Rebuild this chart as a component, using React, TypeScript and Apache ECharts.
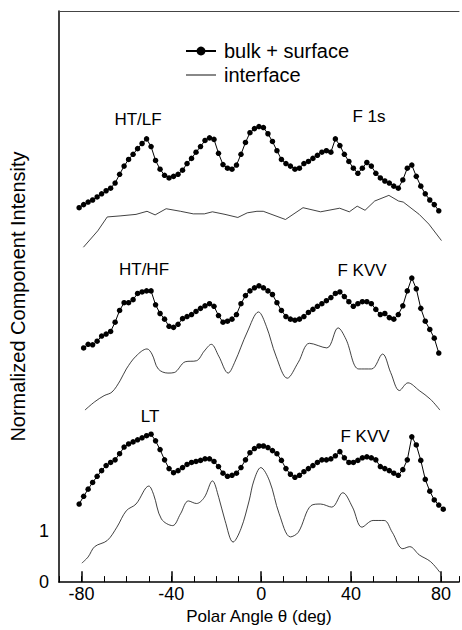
import React, { useEffect, useRef } from 'react';
import * as echarts from 'echarts';

// Polar angles (deg) of the dotted bulk + surface points
const ANGLES = [
  -81, -79, -77, -75, -73, -71, -69, -67, -65, -63,
  -61, -59, -57, -55, -53, -51, -49, -47, -45, -43,
  -41, -39, -37, -35, -33, -31, -29, -27, -25, -23,
  -21, -19, -17, -15, -13, -11, -9, -7, -5, -3,
  -1, 1, 3, 5, 7, 9, 11, 13, 15, 17,
  19, 21, 23, 25, 27, 29, 31, 33, 35, 37,
  39, 41, 43, 45, 47, 49, 51, 53, 55, 57,
  59, 61, 63, 65, 67, 69, 71, 73, 75, 77,
  79, 81,
];

// HT/LF  F 1s  bulk + surface
const TOP_BULK = [
  7.29, 7.35, 7.40, 7.44, 7.50, 7.56, 7.62, 7.67, 7.77, 7.94,
  8.10, 8.23, 8.33, 8.44, 8.54, 8.63, 8.48, 8.21, 8.04, 7.92,
  7.87, 7.90, 7.94, 8.02, 8.15, 8.25, 8.37, 8.48, 8.60, 8.65,
  8.62, 8.35, 8.13, 8.06, 8.04, 8.12, 8.33, 8.56, 8.75, 8.83,
  8.87, 8.85, 8.73, 8.58, 8.40, 8.23, 8.15, 8.10, 8.04, 8.06,
  8.15, 8.19, 8.25, 8.31, 8.37, 8.40, 8.37, 8.63, 8.50, 8.33,
  8.19, 8.06, 7.96, 8.06, 8.17, 8.10, 7.96, 7.87, 7.81, 7.77,
  7.71, 7.67, 7.83, 8.06, 8.12, 7.90, 7.71, 7.56, 7.44, 7.35,
  7.23, null,
];

// HT/HF  F KVV  bulk + surface
const MID_BULK = [
  null, 4.56, 4.63, 4.62, 4.69, 4.79, 4.83, 4.88, 5.06, 5.29,
  5.44, 5.44, 5.50, 5.62, 5.65, 5.67, 5.67, 5.40, 5.23, 5.12,
  4.98, 4.96, 5.02, 5.13, 5.17, 5.21, 5.27, 5.33, 5.38, 5.42,
  5.37, 5.19, 5.06, 5.08, 5.12, 5.21, 5.42, 5.58, 5.67, 5.73,
  5.77, 5.73, 5.67, 5.60, 5.44, 5.29, 5.17, 5.12, 5.10, 5.12,
  5.17, 5.25, 5.31, 5.37, 5.42, 5.48, 5.54, 5.62, 5.65, 5.56,
  5.46, 5.37, 5.42, 5.46, 5.46, 5.42, 5.31, 5.21, 5.23, 5.15,
  5.12, 5.21, 5.38, 5.67, 5.92, 5.71, 5.33, 5.08, 4.92, 4.75,
  4.46, null,
];

// LT  F KVV  bulk + surface
const LOW_BULK = [
  1.52, 1.67, 1.81, 1.94, 2.06, 2.17, 2.27, 2.33, 2.38, 2.50,
  2.63, 2.69, 2.73, 2.77, 2.81, 2.85, 2.88, 2.75, 2.58, 2.38,
  2.21, 2.13, 2.17, 2.23, 2.29, 2.33, 2.35, 2.37, 2.40, 2.40,
  2.35, 2.25, 2.12, 2.06, 2.08, 2.12, 2.23, 2.38, 2.52, 2.60,
  2.65, 2.65, 2.62, 2.56, 2.50, 2.37, 2.21, 2.10, 2.04, 2.08,
  2.15, 2.21, 2.27, 2.33, 2.38, 2.38, 2.40, 2.46, 2.54, 2.42,
  2.33, 2.33, 2.37, 2.42, 2.44, 2.42, 2.38, 2.25, 2.21, 2.17,
  2.12, 2.08, 2.19, 2.38, 2.83, 2.67, 2.37, 2.00, 1.77, 1.60,
  1.50, 1.42,
];

// interface curves (angle, value)
const TOP_IF_ANGLES = [-79.1, -72.7, -68.5, -62.8, -55.7, -50.8, -47.2, -42.3, -35.9, -30.2, -25.3, -21.7, -16.1, -10.4, -6.2, -1.9, 0.9, 10.8, 18.6, 26.4, 34.9, 39.2, 42.7, 46.2, 50.5, 56.8, 61.1, 63.2, 70.3, 74.6, 80.2];
const TOP_IF_VALUES = [6.52, 6.84, 7.11, 7.13, 7.16, 7.22, 7.15, 7.27, 7.22, 7.17, 7.17, 7.21, 7.16, 7.10, 7.19, 7.22, 7.22, 7.06, 7.29, 7.21, 7.28, 7.21, 7.32, 7.24, 7.42, 7.53, 7.42, 7.40, 7.16, 6.97, 6.65];

const MID_IF_ANGLES = [-78.4, -74.1, -69.9, -66.4, -62.8, -60, -55.7, -50.8, -48.6, -45.8, -41.5, -38.7, -33.8, -28.8, -25.3, -22.2, -18.9, -14.7, -11.8, -6.2, -1.2, 2.3, 6.6, 11.6, 16.5, 21.5, 29.2, 34.2, 37.7, 43.4, 49.1, 54, 57.6, 61.5, 65.3, 70.3, 75.3, 79.5];
const MID_IF_VALUES = [3.35, 3.51, 3.63, 3.70, 3.92, 4.15, 4.40, 4.54, 4.44, 4.15, 4.07, 4.08, 4.29, 4.31, 4.50, 4.63, 4.40, 4.07, 4.28, 4.87, 5.26, 4.98, 4.40, 3.97, 4.28, 4.65, 4.56, 4.95, 4.73, 4.15, 4.15, 4.44, 4.08, 3.73, 3.88, 3.73, 3.56, 3.35];

const LOW_IF_ANGLES = [-79.8, -77, -74.1, -68.5, -64.2, -60, -55.7, -50, -47.9, -44.4, -39.4, -35.9, -32.4, -28.8, -25.3, -21.7, -18.9, -16.1, -12.5, -9, -5.4, -3.3, -0.2, 3.7, 8, 13, 16.5, 22.2, 26.4, 31.4, 36.3, 40.6, 44.8, 49.8, 54.7, 58.3, 63, 66.1, 70.3, 75.3, 79.5];
const LOW_IF_VALUES = [0.37, 0.49, 0.69, 0.81, 1.07, 1.39, 1.52, 1.87, 1.71, 1.23, 1.10, 1.33, 1.58, 1.53, 1.65, 1.97, 1.65, 1.20, 0.78, 1.04, 1.58, 1.97, 2.23, 1.97, 1.33, 0.88, 0.97, 1.49, 1.52, 1.46, 1.74, 1.46, 1.07, 1.20, 1.20, 0.97, 0.65, 0.69, 0.53, 0.40, 0.19];

const MAJOR_TICKS = [-80, -40, 0, 40, 80];

const ANNOTATIONS = [
  { text: 'HT/LF', x: 138, y: 119 },
  { text: 'F 1s', x: 369, y: 116 },
  { text: 'HT/HF', x: 144, y: 269 },
  { text: 'F KVV', x: 362, y: 270 },
  { text: 'LT', x: 150, y: 416 },
  { text: 'F KVV', x: 365, y: 436 },
];

const FONT = "'Liberation Sans', Arial, Helvetica, sans-serif";

function pairs(xs: number[], ys: (number | null)[]) {
  const out: number[][] = [];
  xs.forEach((x, i) => {
    const y = ys[i];
    if (y !== null && y !== undefined) out.push([x, y]);
  });
  return out;
}

export default function App() {
  const ref = useRef<HTMLDivElement>(null);

  useEffect(() => {
    const chart = echarts.init(ref.current as HTMLDivElement, null, { renderer: 'svg' });

    const bulk = (ys: (number | null)[]) => ({
      type: 'line',
      name: 'bulk + surface',
      data: pairs(ANGLES, ys),
      symbol: 'circle',
      symbolSize: 5.5,
      itemStyle: { color: '#000' },
      lineStyle: { color: '#000', width: 1 },
      emphasis: { disabled: true },
      z: 3,
    });
    const iface = (xs: number[], ys: number[]) => ({
      type: 'line',
      name: 'interface',
      data: pairs(xs, ys),
      symbol: 'none',
      showSymbol: false,
      smooth: 0.35,
      itemStyle: { color: '#111' },
      lineStyle: { color: '#111', width: 0.8 },
      emphasis: { disabled: true },
      z: 2,
    });

    const top = bulk(TOP_BULK) as any;
    top.markLine = {
      silent: true,
      symbol: ['none', 'none'],
      label: { show: false },
      lineStyle: { color: '#000', width: 1.5, type: 'solid' },
      data: MAJOR_TICKS.map((t) => [{ coord: [t, 0] }, { coord: [t, 0.21] }]),
    };
    const topIf = iface(TOP_IF_ANGLES, TOP_IF_VALUES) as any;
    topIf.smooth = false;

    chart.setOption({
      animation: false,
      backgroundColor: '#fff',
      grid: { left: 43, right: 0, top: 11, bottom: 41, containLabel: false },
      legend: {
        orient: 'vertical',
        left: 180,
        top: 36,
        itemWidth: 30,
        itemHeight: 11,
        itemGap: 4,
        symbolKeepAspect: true,
        data: [
          { name: 'bulk + surface' },
          { name: 'interface', icon: 'path://M0,0H30V1H0Z', itemStyle: { color: '#111' } },
        ],
        textStyle: { fontSize: 20, color: '#000', fontFamily: FONT, lineHeight: 20, padding: [0, 0, 0, 3] },
      },
      xAxis: [
        {
          type: 'value',
          min: -90,
          max: 88,
          interval: 10,
          axisLine: { show: true, onZero: false, lineStyle: { color: '#000', width: 1.5 } },
          axisTick: { show: true, inside: true, length: 6, lineStyle: { color: '#000', width: 1 } },
          axisLabel: {
            formatter: (v: number) => (v % 40 === 0 ? String(v) : ''),
            fontSize: 18,
            color: '#000',
            fontFamily: FONT,
            margin: 3,
          },
          splitLine: { show: false },
          name: 'Polar Angle \u03B8 (deg)',
          nameLocation: 'middle',
          nameGap: 22,
          nameTextStyle: { fontSize: 17, color: '#000', fontFamily: FONT },
        },
        {
          type: 'value',
          position: 'top',
          min: -90,
          max: 88,
          axisLine: { show: true, onZero: false, lineStyle: { color: '#444', width: 1 } },
          axisTick: { show: false },
          axisLabel: { show: false },
          splitLine: { show: false },
        },
      ],
      yAxis: {
        type: 'value',
        min: 0,
        max: 11.12,
        interval: 1,
        axisLine: { show: true, onZero: false, lineStyle: { color: '#000', width: 1.5 } },
        axisTick: { show: false },
        splitLine: { show: false },
        axisLabel: {
          formatter: (v: number) => (v === 0 ? '0' : v === 1 ? '1' : ''),
          fontSize: 18,
          color: '#000',
          fontFamily: FONT,
          margin: 10,
        },
        name: 'Normalized Component Intensity',
        nameLocation: 'middle',
        nameRotate: 90,
        nameGap: 19,
        nameTextStyle: { fontSize: 20, color: '#000', fontFamily: FONT },
      },
      graphic: ANNOTATIONS.map((a) => ({
        type: 'text',
        x: a.x,
        y: a.y,
        silent: true,
        style: {
          text: a.text,
          fill: '#000',
          font: `17px ${FONT}`,
          align: 'center',
          verticalAlign: 'middle',
          textAlign: 'center',
          textVerticalAlign: 'middle',
        },
      })),
      series: [
        top,
        bulk(MID_BULK),
        bulk(LOW_BULK),
        topIf,
        iface(MID_IF_ANGLES, MID_IF_VALUES),
        iface(LOW_IF_ANGLES, LOW_IF_VALUES),
      ],
    });

    return () => chart.dispose();
  }, []);

  return <div ref={ref} style={{ position: 'fixed', left: 0, top: 0, width: 462, height: 630 }} />;
}
